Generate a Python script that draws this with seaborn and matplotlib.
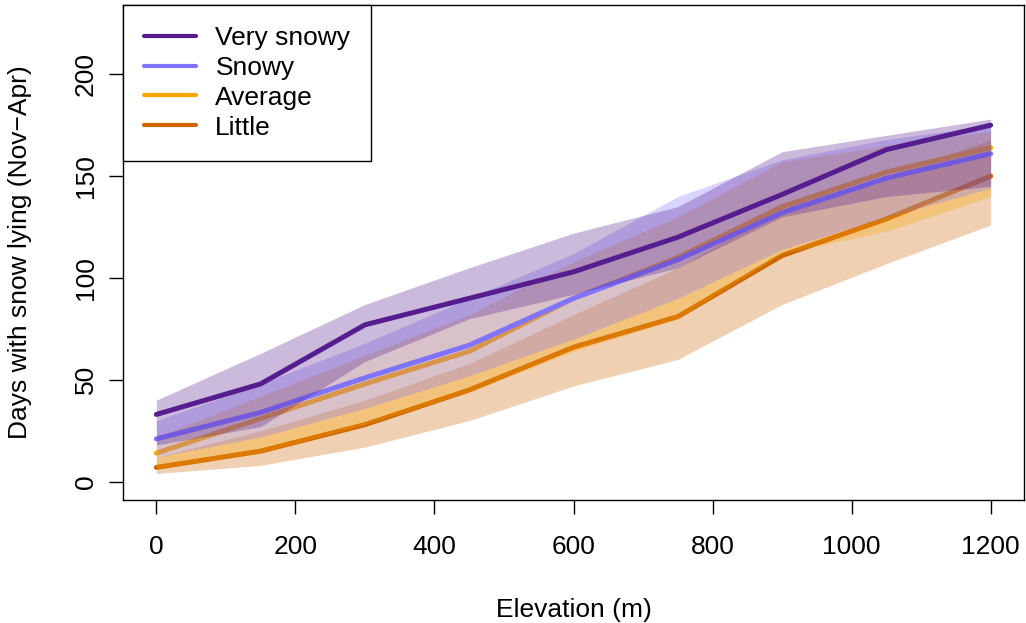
import seaborn as sns
import pandas as pd
import matplotlib
matplotlib.use('Agg')
import matplotlib.pyplot as plt
from matplotlib.lines import Line2D

# elevation steps (m)
elevation = [0, 150, 300, 450, 600, 750, 900, 1050, 1200]

# median days with snow lying, per winter type
very_snowy = [33, 48, 77, 90, 103, 120, 141, 163, 175]
snowy = [21, 34, 51, 67, 90, 109, 132, 149, 161]
average = [14, 31, 48, 64, 90, 110, 135, 152, 164]
little = [7, 15, 28, 45, 66, 81, 111, 129, 150]

# spread (lower / upper) around each line
very_snowy_lo = [18, 27, 59, 80, 92, 105, 130, 140, 145]
very_snowy_hi = [40, 63, 87, 105, 122, 135, 162, 170, 178]
snowy_lo = [12, 22, 36, 52, 70, 90, 114, 130, 144]
snowy_hi = [30, 48, 68, 90, 112, 140, 158, 168, 175]
average_lo = [6, 14, 28, 44, 64, 80, 112, 123, 140]
average_hi = [22, 42, 62, 82, 108, 130, 157, 165, 172]
little_lo = [4, 8, 17, 30, 47, 60, 87, 107, 126]
little_hi = [12, 25, 40, 58, 82, 105, 135, 150, 168]

labels = ['Very snowy', 'Snowy', 'Average', 'Little']
colours = ['#561D8E', '#8073FF', '#FFA500', '#CC6600']
mids = [very_snowy, snowy, average, little]
los = [very_snowy_lo, snowy_lo, average_lo, little_lo]
his = [very_snowy_hi, snowy_hi, average_hi, little_hi]


def main():
    sns.set_style('white')
    plt.rcParams['font.family'] = ['Liberation Sans', 'DejaVu Sans']
    plt.rcParams['font.size'] = 19
    plt.rcParams['text.color'] = 'black'
    plt.rcParams['axes.labelcolor'] = 'black'

    fig = plt.figure(figsize=(10.26, 6.23), dpi=100)
    ax = fig.add_axes([123 / 1026, 1 - 500 / 623, (1024 - 123) / 1026, (500 - 5) / 623])

    # draw from 'Little' up to 'Very snowy', band then line for each
    z = 1
    for i in reversed(range(len(labels))):
        df = pd.DataFrame({'elev': elevation, 'days': mids[i]})
        ax.fill_between(elevation, los[i], his[i], color=colours[i], alpha=0.3,
                        linewidth=0, zorder=z)
        sns.lineplot(data=df, x='elev', y='days', color=colours[i], linewidth=3.6,
                     solid_capstyle='round', ax=ax, zorder=z + 1)
        z += 2

    ax.set_xlim(-48, 1248)
    ax.set_ylim(-9, 234)
    ax.set_xticks(range(0, 1201, 200))
    ax.set_yticks(range(0, 201, 50))
    ax.set_yticklabels([str(v) for v in range(0, 201, 50)], rotation=90, va='center')
    ax.tick_params(axis='both', direction='out', length=10, width=1.0, color='black',
                   labelsize=19, labelcolor='black', left=True, bottom=True)
    ax.tick_params(axis='x', pad=15)
    ax.tick_params(axis='y', pad=8)
    for s in ax.spines.values():
        s.set_visible(True)
        s.set_color('black')
        s.set_linewidth(1.0)

    ax.set_xlabel('Elevation (m)', fontsize=19, labelpad=28, color='black')
    ax.set_ylabel('Days with snow lying (Nov\u2212Apr)', fontsize=19, labelpad=30, color='black')

    handles = [Line2D([0], [0], color=c, linewidth=3) for c in colours]
    leg = ax.legend(handles, labels, loc='upper left', bbox_to_anchor=(0, 1),
                    borderaxespad=0, fancybox=False, framealpha=1, edgecolor='black',
                    fontsize=19, handlelength=1.95, handletextpad=0.75, labelspacing=0.22,
                    borderpad=0.8)
    leg.get_frame().set_linewidth(1.0)
    leg.set_zorder(20)
    for t in leg.get_texts():
        t.set_color('black')

    plt.savefig('out.png', dpi=100)


if __name__ == "__main__":
    main()
